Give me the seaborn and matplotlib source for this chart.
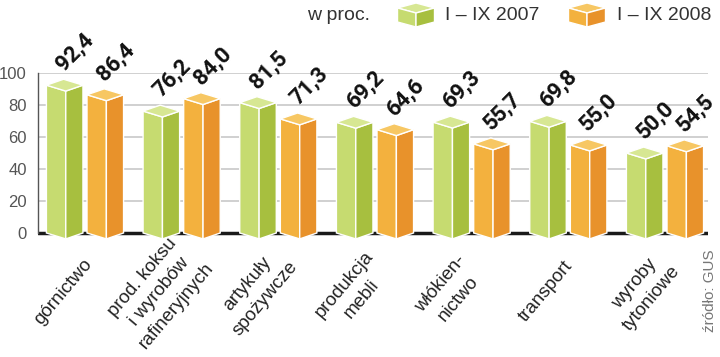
import numpy as np
import pandas as pd
import matplotlib
matplotlib.use('Agg')
import matplotlib.pyplot as plt
import matplotlib.transforms as mtransforms
import seaborn as sns

# dane (w proc.)
sektory = ['górnictwo', 'prod. koksu\ni wyrobów\nrafineryjnych', 'artykuły\nspożywcze',
           'produkcja\nmebli', 'włókien-\nnictwo', 'transport', 'wyroby\ntytoniowe']
okresy = ['I – IX 2007', 'I – IX 2008']
wart_2007 = [92.4, 76.2, 81.5, 69.2, 69.3, 69.8, 50.0]
wart_2008 = [86.4, 84.0, 71.3, 64.6, 55.7, 55.0, 54.5]

# kolory scian: przod, bok, gora
kolory = {
    okresy[0]: ('#c6db70', '#a7bf3f', '#d7e793'),
    okresy[1]: ('#f3b13e', '#e8922b', '#f7c763'),
}

df = pd.DataFrame({
    'sektor': sektory * 2,
    'okres': [okresy[0]] * len(sektory) + [okresy[1]] * len(sektory),
    'wartosc': wart_2007 + wart_2008,
})

sns.set_theme(style='white')
plt.rcParams['font.family'] = ['Liberation Sans', 'DejaVu Sans']

fig = plt.figure(figsize=(7.2, 3.57), dpi=100)
ax = fig.add_axes([38 / 720, 117.6 / 357, 670 / 720, 166.4 / 357])

sns.barplot(data=df, x='sektor', y='wartosc', hue='okres', hue_order=okresy,
            palette={k: v[0] for k, v in kolory.items()}, width=0.84, gap=0.1,
            errorbar=None, legend=False, ax=ax)

ax.set_xlim(-0.486, 6.445)
ax.set_ylim(-4, 100)

# glebokosc "3D" w jednostkach danych
dy = 3.7
for okres, cont in zip(okresy, ax.containers):
    przod, bok, gora = kolory[okres]
    for bar in cont:
        x0 = bar.get_x()
        w = bar.get_width()
        h = bar.get_height()
        x1 = x0 + w
        xm = x0 + w * 0.53
        xb = x0 + w * 0.47
        bar.set_visible(False)
        ax.fill([x0, xm, xm, x0], [0, -dy, h - dy, h], color=przod,
                ec='white', lw=1, zorder=3, clip_on=False)
        ax.fill([xm, x1, x1, xm], [-dy, 0, h, h - dy], color=bok,
                ec='white', lw=1, zorder=3, clip_on=False)
        ax.fill([x0, xm, x1, xb], [h, h - dy, h, h + dy], color=gora,
                ec='white', lw=1, zorder=3, clip_on=False)
        ax.text(x0 + 0.18, h + 8.5, f'{h:.1f}'.replace('.', ','), rotation=45,
                rotation_mode='anchor', ha='left', va='baseline',
                fontsize=16, fontweight='bold', family=['Roboto', 'DejaVu Sans'],
                color='#111', zorder=4)

ax.axhline(0, color='#1a1a1a', lw=2.5, zorder=2)

ax.set_yticks([0, 20, 40, 60, 80, 100])
ax.yaxis.grid(True, color='#c4c4c4', lw=1.1)
ax.set_axisbelow(True)
for s in ['top', 'right', 'bottom']:
    ax.spines[s].set_visible(False)
ax.spines['left'].set_bounds(0, 100)
ax.spines['left'].set_color('#555555')
ax.spines['left'].set_linewidth(1)
ax.tick_params(axis='y', length=0, pad=8, labelsize=12, labelcolor='#555555')
ax.tick_params(axis='x', length=0, pad=0)
ax.set_xlabel('')
ax.set_ylabel('')

ax.set_xticks(range(len(sektory)))
ax.set_xticklabels(sektory, rotation=50, ha='center', va='center', rotation_mode='anchor',
                   multialignment='center', fontsize=13.5, color='#222222', linespacing=1.4)
przes = mtransforms.ScaledTranslation(-0.22, -0.52, fig.dpi_scale_trans)
for lab in ax.get_xticklabels():
    lab.set_transform(lab.get_transform() + przes)

# legenda i opisy w pikselach
nak = fig.add_axes([0, 0, 1, 1])
nak.set_xlim(0, 720)
nak.set_ylim(357, 0)
nak.axis('off')
nak.patch.set_visible(False)


def kostka(cx, y0, w, kol):
    przod, bok, gora = kol
    l, r = cx - w / 2, cx + w / 2
    nak.fill([l, cx, r, cx], [y0 + 5, y0 + 10, y0 + 5, y0], color=gora, ec='white', lw=1)
    nak.fill([l, cx, cx, l], [y0 + 5, y0 + 10, y0 + 24, y0 + 19], color=przod, ec='white', lw=1)
    nak.fill([cx, r, r, cx], [y0 + 10, y0 + 5, y0 + 19, y0 + 24], color=bok, ec='white', lw=1)


nak.text(307, 15, 'w proc.', fontsize=14, color='#333333', va='center', ha='left')
kostka(416, 3, 37, kolory[okresy[0]])
nak.text(445, 15, okresy[0], fontsize=14, color='#333333', va='center', ha='left')
kostka(587, 3, 37, kolory[okresy[1]])
nak.text(617, 15, okresy[1], fontsize=14, color='#333333', va='center', ha='left')
nak.text(710, 291, 'źródło: GUS', fontsize=11, color='#777777', rotation=90,
         va='center', ha='center')

fig.savefig('out.png', dpi=100)
